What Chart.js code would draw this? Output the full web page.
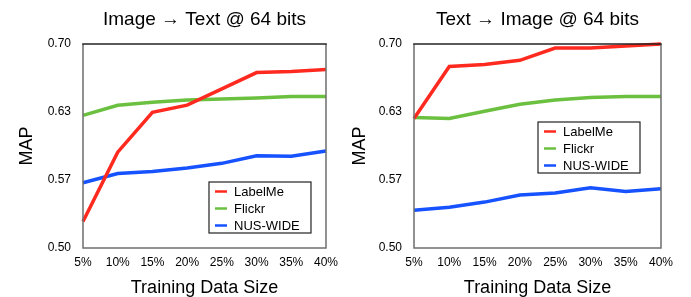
<!DOCTYPE html>
<html>
<head>
<meta charset="utf-8">
<script src="https://cdn.jsdelivr.net/npm/chart.js@4/dist/chart.umd.min.js"></script>
<style>
  html, body { margin: 0; padding: 0; background: #fff; }
  #wrap { position: relative; width: 691px; height: 297px; }
  canvas { position: absolute; top: 0; }
  #c1 { left: 0; }
  #c2 { left: 345px; }
</style>
</head>
<body>
<div id="wrap">
  <canvas id="c1" width="345" height="297"></canvas>
  <canvas id="c2" width="346" height="297"></canvas>
</div>
<script>
// ---- data ----
const categories = ['5%', '10%', '15%', '20%', '25%', '30%', '35%', '40%'];
const yTickLabels = ['0.50', '0.57', '0.63', '0.70'];
const seriesNames = ['LabelMe', 'Flickr', 'NUS-WIDE'];

const imgToTextLabelMe = [0.526, 0.594, 0.633, 0.640, 0.656, 0.672, 0.673, 0.675];
const imgToTextFlickr  = [0.630, 0.640, 0.643, 0.645, 0.646, 0.647, 0.6485, 0.6485];
const imgToTextNusWide = [0.564, 0.573, 0.575, 0.5785, 0.583, 0.5905, 0.590, 0.595];

const textToImgLabelMe = [0.627, 0.678, 0.680, 0.684, 0.696, 0.696, 0.698, 0.700];
const textToImgFlickr  = [0.628, 0.627, 0.634, 0.641, 0.645, 0.6475, 0.6485, 0.6485];
const textToImgNusWide = [0.537, 0.540, 0.545, 0.552, 0.554, 0.559, 0.5555, 0.558];

const colors = ['#ff2a1f', '#6cc040', '#1652ff'];
const FONT = '"Liberation Sans", Arial, Helvetica, sans-serif';

// ---- plugin: plot frame + boxed legend ----
const framePlugin = {
  id: 'frameLegend',
  afterDatasetsDraw(chart, args, opts) {
    const { ctx, chartArea: a } = chart;
    ctx.save();
    ctx.lineWidth = 1.5;
    ctx.strokeStyle = '#6e6e6e';
    ctx.beginPath();
    ctx.moveTo(a.left, a.top); ctx.lineTo(a.left, a.bottom);
    ctx.lineTo(a.right, a.bottom); ctx.lineTo(a.right, a.top);
    ctx.stroke();
    ctx.strokeStyle = '#222';
    ctx.beginPath();
    ctx.moveTo(a.left - 0.75, a.top); ctx.lineTo(a.right + 0.75, a.top);
    ctx.stroke();

    // legend box
    const bx = a.right - opts.insetRight - opts.w;
    const by = opts.fromTop ? a.top + opts.inset : a.bottom - opts.inset - opts.h;
    ctx.fillStyle = '#fff';
    ctx.fillRect(bx, by, opts.w, opts.h);
    ctx.lineWidth = 1.2;
    ctx.strokeStyle = '#222';
    ctx.strokeRect(bx, by, opts.w, opts.h);
    ctx.font = '13px ' + FONT;
    ctx.textBaseline = 'middle';
    ctx.textAlign = 'left';
    chart.data.datasets.forEach((ds, i) => {
      const y = by + 9.5 + i * 17;
      ctx.strokeStyle = ds.borderColor;
      ctx.lineWidth = 2.5;
      ctx.beginPath();
      ctx.moveTo(bx + 6, y); ctx.lineTo(bx + 18, y);
      ctx.stroke();
      ctx.fillStyle = '#000';
      ctx.fillText(ds.label, bx + 25, y + 0.5);
    });
    ctx.restore();
  }
};

function makeChart(id, title, series, yAxisWidth, yTitlePad, rightPad, legendOpts) {
  return new Chart(document.getElementById(id), {
    type: 'line',
    data: {
      labels: categories,
      datasets: series.map((vals, i) => ({
        label: seriesNames[i],
        data: vals,
        borderColor: colors[i],
        backgroundColor: colors[i],
        borderWidth: 3.5,
        pointRadius: 0,
        tension: 0,
        clip: 4
      }))
    },
    options: {
      responsive: false,
      animation: false,
      devicePixelRatio: 1,
      layout: { padding: { left: 0, right: rightPad, top: 0, bottom: 0 } },
      plugins: {
        legend: { display: false },
        tooltip: { enabled: false },
        title: {
          display: true,
          text: title,
          fullSize: false,
          color: '#000',
          font: { family: FONT, size: 19, weight: 'normal', lineHeight: 1.2 },
          padding: { top: 8.5, bottom: 12.7 }
        },
        frameLegend: legendOpts
      },
      scales: {
        x: {
          type: 'category',
          offset: false,
          grid: { display: false, drawTicks: false },
          border: { display: false },
          ticks: { color: '#000', font: { family: FONT, size: 12 }, padding: 7, maxRotation: 0, autoSkip: false },
          title: {
            display: true, text: 'Training Data Size', color: '#000',
            font: { family: FONT, size: 18, lineHeight: 1.0 },
            padding: { top: 0, bottom: 0 }
          },
          afterFit(s) { s.height = 49; }
        },
        y: {
          min: 0.5, max: 0.7,
          grid: { display: false, drawTicks: false },
          border: { display: false },
          ticks: {
            count: 4,
            color: '#000',
            font: { family: FONT, size: 12 },
            padding: 12,
            callback: (v, i) => yTickLabels[i]
          },
          title: {
            display: true, text: 'MAP', color: '#000',
            font: { family: FONT, size: 18, lineHeight: 1.2 },
            padding: { top: yTitlePad, bottom: 0 }
          },
          afterFit(s) { s.width = yAxisWidth; }
        }
      }
    },
    plugins: [framePlugin]
  });
}

makeChart('c1', 'Image \u2192 Text @ 64 bits',
  [imgToTextLabelMe, imgToTextFlickr, imgToTextNusWide],
  83, 16.7, 15, { w: 102, h: 51, insetRight: 15, inset: 15, fromTop: false });

makeChart('c2', 'Text \u2192 Image @ 64 bits',
  [textToImgLabelMe, textToImgFlickr, textToImgNusWide],
  69, 4.2, 30, { w: 102, h: 51, insetRight: 21, inset: 78, fromTop: true });
</script>
</body>
</html>
